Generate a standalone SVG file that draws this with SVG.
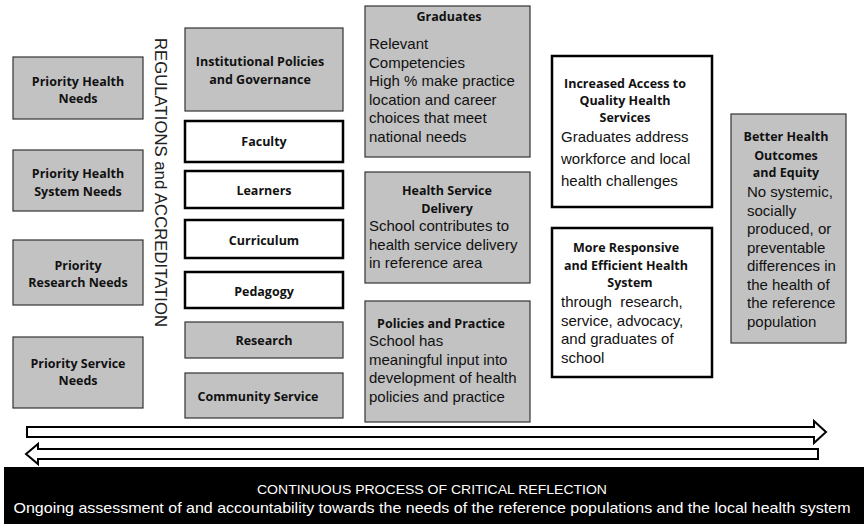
<svg xmlns="http://www.w3.org/2000/svg" width="864" height="524" viewBox="0 0 864 524">
<style>
.g{fill:#c2c2c2;stroke:#333;stroke-width:1.2}
.w{fill:#fff;stroke:#000;stroke-width:2.5}
.t{font-family:"Open Sans","Noto Sans",sans-serif;font-weight:700;font-size:12.5px;fill:#111;text-anchor:middle}
.b{font-family:"Liberation Sans",Arial,sans-serif;font-size:15px;fill:#111}
.arr{fill:#fff;stroke:#000;stroke-width:2;stroke-linejoin:miter}
</style>
<rect width="864" height="524" fill="#fff"/>
<g id="priority-health-needs"><rect class="g" x="13" y="57" width="130" height="62"/><text class="t" x="78" y="86">Priority Health</text><text class="t" x="78" y="103">Needs</text></g>
<g id="priority-health-system-needs"><rect class="g" x="13" y="150" width="130" height="61"/><text class="t" x="78" y="178">Priority Health</text><text class="t" x="78" y="196">System Needs</text></g>
<g id="priority-research-needs"><rect class="g" x="13" y="240" width="130" height="65"/><text class="t" x="78" y="270">Priority</text><text class="t" x="78" y="287">Research Needs</text></g>
<g id="priority-service-needs"><rect class="g" x="13" y="337" width="130" height="71"/><text class="t" x="78" y="368">Priority Service</text><text class="t" x="78" y="385">Needs</text></g>
<g id="regulations"><text transform="translate(155,38) rotate(90)" font-family="Liberation Sans, Arial, sans-serif" font-size="16" fill="#222" textLength="289" lengthAdjust="spacingAndGlyphs">REGULATIONS and ACCREDITATION</text></g>
<g id="institutional"><rect class="g" x="185" y="28" width="158" height="83"/><text class="t" x="260" y="66">Institutional Policies</text><text class="t" x="260" y="84">and Governance</text></g>
<g id="faculty"><rect class="w" x="185" y="121" width="158" height="41"/><text class="t" x="264" y="146">Faculty</text></g>
<g id="learners"><rect class="w" x="185" y="171" width="158" height="37"/><text class="t" x="264" y="195">Learners</text></g>
<g id="curriculum"><rect class="w" x="185" y="220" width="158" height="38"/><text class="t" x="264" y="245">Curriculum</text></g>
<g id="pedagogy"><rect class="w" x="185" y="272" width="158" height="36"/><text class="t" x="264" y="296">Pedagogy</text></g>
<g id="research"><rect class="g" x="185" y="322" width="158" height="36"/><text class="t" x="264" y="345">Research</text></g>
<g id="community-service"><rect class="g" x="185" y="373" width="158" height="45"/><text class="t" x="258" y="401">Community Service</text></g>
<g id="graduates"><rect class="g" x="365" y="6" width="165" height="151"/><text class="t" x="449" y="21">Graduates</text>
<text class="b" x="369" y="49">Relevant</text><text class="b" x="369" y="67.5">Competencies</text><text class="b" x="369" y="86">High % make practice</text><text class="b" x="369" y="104.5">location and career</text><text class="b" x="369" y="123">choices that meet</text><text class="b" x="369" y="141.5">national needs</text></g>
<g id="health-service-delivery"><rect class="g" x="365" y="172" width="165" height="111"/><text class="t" x="447" y="195">Health Service</text><text class="t" x="447" y="213">Delivery</text>
<text class="b" x="369" y="231">School contributes to</text><text class="b" x="369" y="249.5">health service delivery</text><text class="b" x="369" y="268">in reference area</text></g>
<g id="policies-practice"><rect class="g" x="365" y="301" width="165" height="121"/><text class="t" x="441" y="328">Policies and Practice</text>
<text class="b" x="369" y="346">School has</text><text class="b" x="369" y="364.5">meaningful input into</text><text class="b" x="369" y="383">development of health</text><text class="b" x="369" y="401.5">policies and practice</text></g>
<g id="increased-access"><rect class="w" x="552" y="56" width="160" height="151"/><text class="t" x="625" y="88">Increased Access to</text><text class="t" x="625" y="105">Quality Health</text><text class="t" x="625" y="122">Services</text>
<text class="b" x="561" y="142">Graduates address</text><text class="b" x="561" y="164">workforce and local</text><text class="b" x="561" y="186">health challenges</text></g>
<g id="more-responsive"><rect class="w" x="552" y="228" width="160" height="149"/><text class="t" x="626" y="252">More Responsive</text><text class="t" x="626" y="270">and Efficient Health</text><text class="t" x="630" y="287">System</text>
<text class="b" x="561" y="307" xml:space="preserve">through  research,</text><text class="b" x="561" y="325.5">service, advocacy,</text><text class="b" x="561" y="344">and graduates of</text><text class="b" x="561" y="362.5">school</text></g>
<g id="better-health"><rect class="g" x="731" y="114" width="115" height="229"/><text class="t" x="786" y="141">Better Health</text><text class="t" x="786" y="160">Outcomes</text><text class="t" x="786" y="177">and Equity</text>
<text class="b" x="747" y="197">No systemic,</text><text class="b" x="747" y="215.5">socially</text><text class="b" x="747" y="234">produced, or</text><text class="b" x="747" y="252.5">preventable</text><text class="b" x="747" y="271">differences in</text><text class="b" x="747" y="289.5">the health of</text><text class="b" x="747" y="308">the reference</text><text class="b" x="747" y="326.5">population</text></g>
<g id="connectors">
<polygon class="arr" points="27,427 814,427 814,421 826,432 814,443 814,437 27,437"/>
<polygon class="arr" points="818,449 38,449 38,444 26,454 38,464 38,459 818,459"/>
</g>
<g id="reflection-band"><rect x="4" y="467" width="860" height="57" fill="#000"/>
<text x="432" y="494" font-family="Liberation Sans, Arial, sans-serif" font-size="13" fill="#fff" text-anchor="middle" textLength="350" lengthAdjust="spacingAndGlyphs">CONTINUOUS PROCESS OF CRITICAL REFLECTION</text>
<text x="432" y="513" font-family="Liberation Sans, Arial, sans-serif" font-size="14.5" fill="#fff" text-anchor="middle" textLength="837" lengthAdjust="spacingAndGlyphs">Ongoing assessment of and accountability towards the needs of the reference populations and the local health system</text></g>
</svg>
